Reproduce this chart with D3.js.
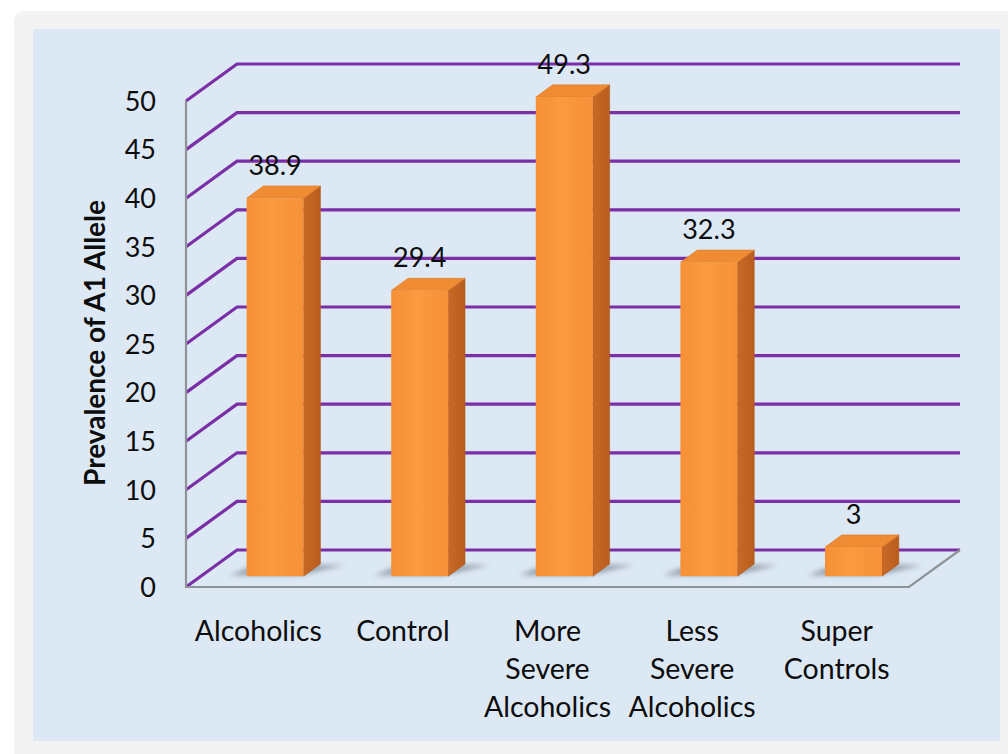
<!DOCTYPE html>
<html><head><meta charset="utf-8">
<script src="https://cdn.jsdelivr.net/npm/d3@7"></script>
<style>
body{margin:0;background:#fff}
svg{display:block}
text{font-family:Lato,'Open Sans',sans-serif;fill:#0d0d0d}
</style>
</head><body>
<svg id="chart" width="1008" height="754"></svg>
<script>
const categories = ["Alcoholics", "Control", "More Severe Alcoholics", "Less Severe Alcoholics", "Super Controls"];
const values = [38.9, 29.4, 49.3, 32.3, 3];
const yTicks = [0, 5, 10, 15, 20, 25, 30, 35, 40, 45, 50];
const yTitle = "Prevalence of A1 Allele";

const svg = d3.select("#chart");
const DX = 51, DY = -37;           // full depth of the 3D floor
const fFront = 0.29, fBack = 0.62; // bar position in depth
const barW = 57;

const x = d3.scaleBand().domain(categories).range([186, 909]);
const y = d3.scaleLinear().domain([0, 50]).range([587, 101]);

// panels
svg.append("rect").attr("x", 14).attr("y", 11).attr("width", 1020).attr("height", 770).attr("rx", 10).attr("fill", "#f3f3f3");
svg.append("rect").attr("x", 33).attr("y", 29).attr("width", 967).attr("height", 712).attr("fill", "#dce8f4");

const defs = svg.append("defs");
defs.append("filter").attr("id", "blur").attr("x", "-50%").attr("y", "-50%").attr("width", "200%").attr("height", "200%")
  .append("feGaussianBlur").attr("stdDeviation", 2.5);
const gFront = defs.append("linearGradient").attr("id", "gFront").attr("x1", 0).attr("x2", 1).attr("y1", 0).attr("y2", 0);
gFront.append("stop").attr("offset", "0%").attr("stop-color", "#f59036");
gFront.append("stop").attr("offset", "45%").attr("stop-color", "#fb9a40");
gFront.append("stop").attr("offset", "100%").attr("stop-color", "#f69139");
const gSide = defs.append("linearGradient").attr("id", "gSide").attr("x1", 0).attr("x2", 1).attr("y1", 0).attr("y2", 0);
gSide.append("stop").attr("offset", "0%").attr("stop-color", "#c86a26");
gSide.append("stop").attr("offset", "100%").attr("stop-color", "#b85d1e");

// gridlines (wall + back)
const xLeft = x.range()[0], xRight = x.range()[1];
svg.append("g").selectAll("path").data(yTicks).join("path")
  .attr("d", t => `M${xLeft},${y(t)}L${xLeft + DX},${y(t) + DY}L${xRight + DX},${y(t) + DY}`)
  .attr("fill", "none").attr("stroke", "#7a2fa6").attr("stroke-width", 3.2);

// floor edges and vertical axis
svg.append("path")
  .attr("d", `M${xLeft},${y(50)}L${xLeft},${y(0)}L${xRight},${y(0)}L${xRight + DX},${y(0) + DY}`)
  .attr("fill", "none").attr("stroke", "#8f9296").attr("stroke-width", 2.2);

// bars
const bars = categories.map((c, i) => {
  const cx = x(c) + x.bandwidth() / 2 + 2;
  const left = cx - barW / 2 + fFront * DX, right = left + barW;
  const base = y(0) + fFront * DY, top = y(values[i]) + fFront * DY;
  const bdx = (fBack - fFront) * DX, bdy = (fBack - fFront) * DY;
  return {c, v: values[i], left, right, base, top, bdx, bdy};
});

const pts = a => a.map(p => p.join(",")).join(" ");
svg.append("g").attr("filter", "url(#blur)").selectAll("polygon").data(bars).join("polygon")
  .attr("points", b => pts([[b.left - 17, b.base - 1], [b.right - 4, b.base - 1], [b.right + b.bdx + 24, b.base + b.bdy + 1], [b.left + b.bdx - 8, b.base + b.bdy + 1]]))
  .attr("fill", "#6f7a84").attr("opacity", 0.65);

const gb = svg.append("g").selectAll("g").data(bars).join("g");
gb.append("polygon")
  .attr("points", b => pts([[b.right, b.top], [b.right + b.bdx, b.top + b.bdy], [b.right + b.bdx, b.base + b.bdy], [b.right, b.base]]))
  .attr("fill", "url(#gSide)").attr("stroke", "#b45c1e").attr("stroke-width", 0.6).attr("stroke-linejoin", "round");
gb.append("polygon")
  .attr("points", b => pts([[b.left, b.top], [b.left + b.bdx, b.top + b.bdy], [b.right + b.bdx, b.top + b.bdy], [b.right, b.top]]))
  .attr("fill", "#ef8b33").attr("stroke", "#e07e2a").attr("stroke-width", 0.6).attr("stroke-linejoin", "round");
gb.append("rect")
  .attr("x", b => b.left).attr("y", b => b.top).attr("width", barW).attr("height", b => b.base - b.top)
  .attr("rx", 2).attr("fill", "url(#gFront)");

// value labels
svg.append("g").selectAll("text").data(bars).join("text")
  .attr("x", b => (b.left + b.right) / 2).attr("y", b => b.top + b.bdy - 11)
  .attr("text-anchor", "middle").attr("font-size", 27).text(b => b.v);

// y tick labels
svg.append("g").selectAll("text").data(yTicks).join("text")
  .attr("x", 156).attr("y", t => y(t)).attr("dy", "0.36em")
  .attr("text-anchor", "end").attr("font-size", 27).text(t => t);

// category labels
const gc = svg.append("g").selectAll("text").data(categories).join("text")
  .attr("x", c => x(c) + x.bandwidth() / 2).attr("y", 641)
  .attr("text-anchor", "middle").attr("font-size", 28.5);
gc.selectAll("tspan").data(c => c.split(" ").map(w => ({w, c}))).join("tspan")
  .attr("x", d => x(d.c) + x.bandwidth() / 2).attr("dy", (d, i) => i ? 38 : 0).text(d => d.w);

// axis title
svg.append("text").attr("transform", "translate(95,343) rotate(-90)")
  .attr("text-anchor", "middle").attr("dy", "0.36em")
  .attr("font-size", 28).attr("font-weight", "bold").text(yTitle);
</script>
</body></html>
